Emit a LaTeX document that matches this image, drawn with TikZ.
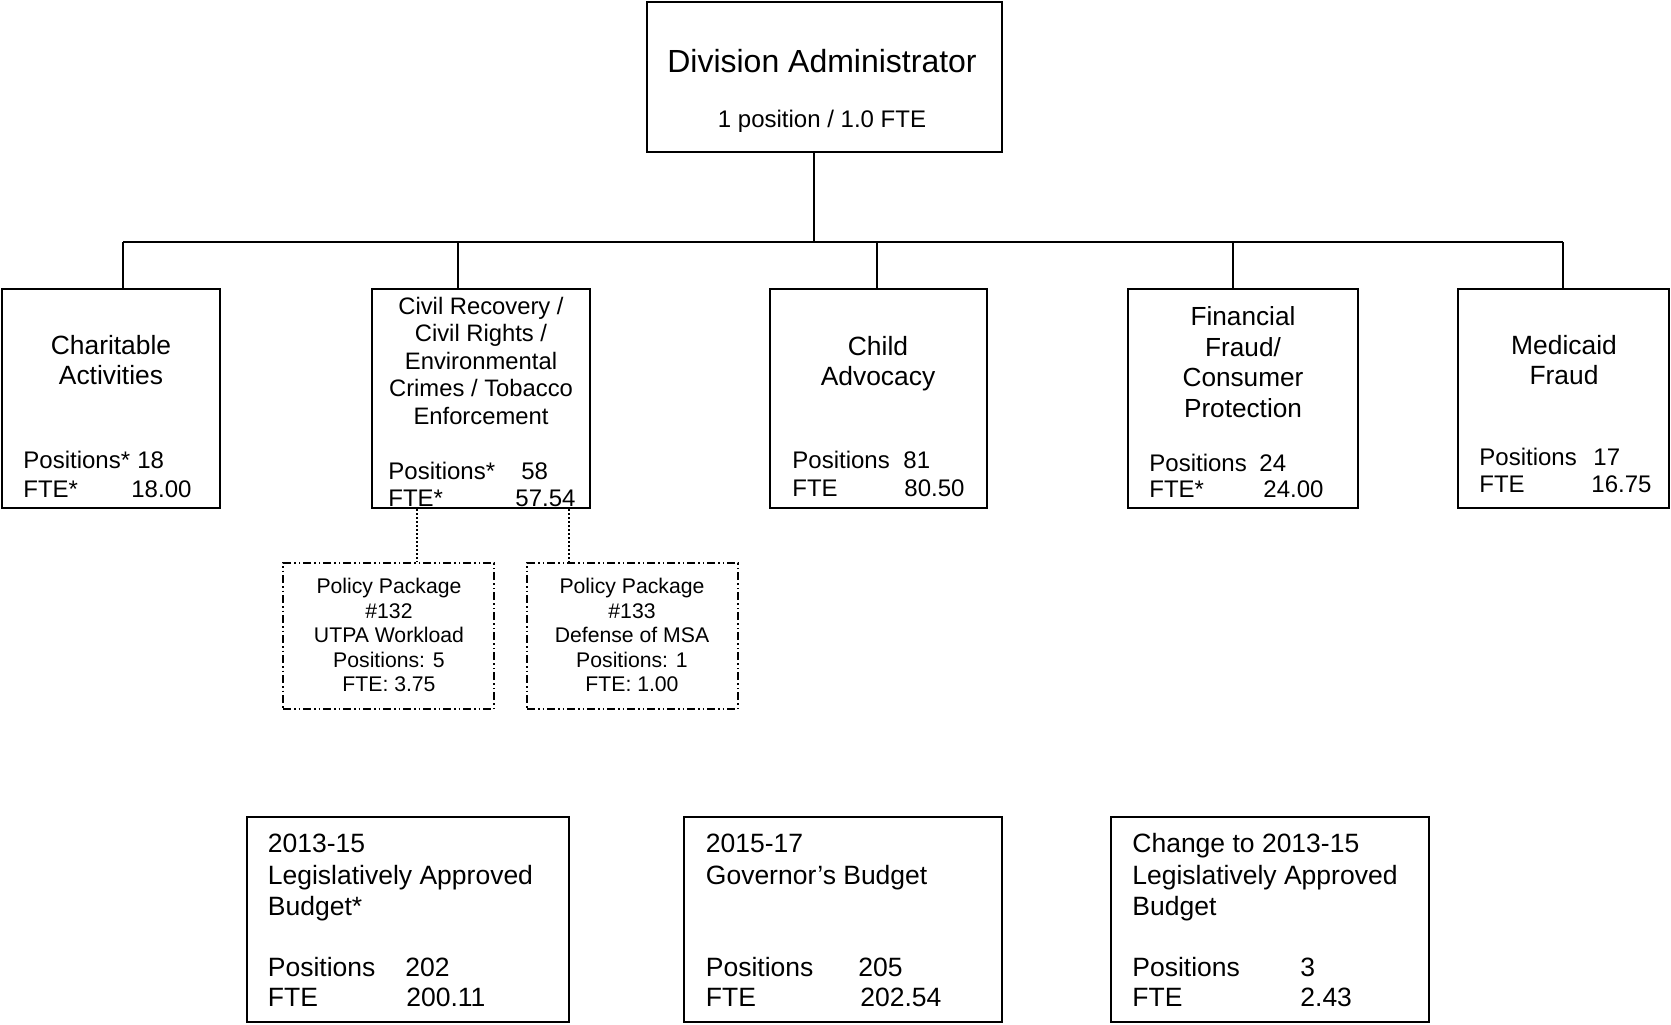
\documentclass[tikz,border=0pt]{standalone}
\usepackage{fontspec}
\setmainfont{Liberation Sans}
\usetikzlibrary{fit}
\begin{document}
\begin{tikzpicture}[x=0.5pt,y=-0.5pt,
  unitbox/.style={draw=black,line width=1.25pt,inner sep=0pt,rectangle},
  pkgbox/.style={draw=black,line width=0.75pt,inner sep=0pt,rectangle,
    dash pattern=on 4pt off 1.5pt on 0.75pt off 1.5pt on 0.75pt off 1.5pt},
  link/.style={draw=black,line width=0.7pt},
  busline/.style={draw=black,line width=1pt},
  dotlink/.style={draw=black,line width=0.75pt,dash pattern=on 0.75pt off 1.25pt},
  bigtxt/.style={font=\fontsize{16}{19}\selectfont,inner sep=0pt},
  titletxt/.style={font=\fontsize{13.2}{15.2}\selectfont,align=center,inner sep=0pt},
  civtxt/.style={font=\fontsize{11.9}{13.75}\selectfont,align=center,inner sep=0pt},
  fintxt/.style={font=\fontsize{13.1}{15.25}\selectfont,align=center,inner sep=0pt},
  numtxt/.style={font=\fontsize{12}{14}\selectfont,inner sep=0pt,anchor=base west},
  pkgtxt/.style={font=\fontsize{10.6}{12.25}\selectfont,align=center,inner sep=0pt},
  sumtxt/.style={font=\fontsize{13.25}{15.5}\selectfont,inner sep=0pt,anchor=base west}]
\useasboundingbox (0,0) rectangle (1671,1024);

% top box
\node[unitbox,fit={(647,2) (1002,152)}] (da) {};
\node[bigtxt,anchor=base] (daname) at (822,72.5) {Division Administrator};
\node[font=\fontsize{12}{14}\selectfont,inner sep=0pt,anchor=base] (dafte) at (822,127.6) {1 position / 1.0 FTE};

% section boxes
\node[unitbox,fit={(2,289) (220,508)}] (char) {};
\node[unitbox,fit={(372,289) (590,508)}] (civ) {};
\node[unitbox,fit={(770,289) (987,508)}] (child) {};
\node[unitbox,fit={(1128,289) (1358,508)}] (fin) {};
\node[unitbox,fit={(1458,289) (1669,508)}] (med) {};

% bus and drops
\coordinate (busL) at (123,242);
\coordinate (busR) at (1563,242);
\coordinate (j1) at (123,242);
\coordinate (j2) at (458,242);
\coordinate (j3) at (877,242);
\coordinate (j4) at (1233,242);
\coordinate (j5) at (1563,242);
\coordinate (jda) at (814,242);
\path[link] (jda |- da.south) -- (jda);
\path[busline] (busL) -- (busR);
\path[link] (j1) -- (j1 |- char.north);
\path[link] (j2) -- (j2 |- civ.north);
\path[link] (j3) -- (j3 |- child.north);
\path[link] (j4) -- (j4 |- fin.north);
\path[link] (j5) -- (j5 |- med.north);

% section titles
\node[titletxt] (chart) at (111,360) {Charitable\\Activities};
\node[civtxt] (civt) at (481,360.5) {Civil Recovery /\\Civil Rights /\\Environmental\\Crimes / Tobacco\\Enforcement};
\node[titletxt] (childt) at (878,363.5) {Child\\Advocacy};
\node[fintxt] (fint) at (1243,362) {Financial\\Fraud/\\Consumer\\Protection};
\node[titletxt] (medt) at (1564,360) {Medicaid\\Fraud};

% section figures
\node[numtxt] (charp) at (23,468.6) {Positions*};
\node[numtxt] (charpv) at (137,468.6) {18};
\node[numtxt] (charf) at (23,497.6) {FTE*};
\node[numtxt] (charfv) at (131,497.6) {18.00};

\node[numtxt] (civp) at (388,479.6) {Positions*};
\node[numtxt] (civpv) at (521,479.6) {58};
\node[numtxt] (civf) at (388,506.6) {FTE*};
\node[numtxt] (civfv) at (515,506.6) {57.54};

\node[numtxt] (childp) at (792,468.6) {Positions};
\node[numtxt] (childpv) at (903,468.6) {81};
\node[numtxt] (childf) at (792,496.6) {FTE};
\node[numtxt] (childfv) at (904,496.6) {80.50};

\node[numtxt] (finp) at (1149,471) {Positions};
\node[numtxt] (finpv) at (1259,471) {24};
\node[numtxt] (finf) at (1149,497.6) {FTE*};
\node[numtxt] (finfv) at (1263,497.6) {24.00};

\node[numtxt] (medp) at (1479,465.6) {Positions};
\node[numtxt] (medpv) at (1593,465.6) {17};
\node[numtxt] (medf) at (1479,492.6) {FTE};
\node[numtxt] (medfv) at (1591,492.6) {16.75};

% policy packages
\node[pkgbox,fit={(283,563) (494,709)}] (pp1) {};
\node[pkgbox,fit={(527,563) (738,709)}] (pp2) {};
\node[pkgtxt] (pp1t) at (389,635) {Policy Package\\\#132\\UTPA Workload\\Positions: 5\\FTE: 3.75};
\node[pkgtxt] (pp2t) at (632,635) {Policy Package\\\#133\\Defense of MSA\\Positions: 1\\FTE: 1.00};
\coordinate (d1) at (417,530);
\coordinate (d2) at (569,530);
\path[dotlink] (d1 |- civ.south) -- (d1 |- pp1.north);
\path[dotlink] (d2 |- civ.south) -- (d2 |- pp2.north);

% budget summary boxes
\node[unitbox,fit={(247,817) (569,1022)}] (lab) {};
\node[unitbox,fit={(684,817) (1002,1022)}] (gov) {};
\node[unitbox,fit={(1111,817) (1429,1022)}] (chg) {};

\node[sumtxt] (lab1) at (267.5,852.5) {2013-15};
\node[sumtxt] (lab2) at (267.5,884.5) {Legislatively Approved};
\node[sumtxt] (lab3) at (267.5,915.5) {Budget*};
\node[sumtxt] (labp) at (267.5,976) {Positions};
\node[sumtxt] (labpv) at (405,976) {202};
\node[sumtxt] (labf) at (267.5,1006) {FTE};
\node[sumtxt] (labfv) at (406,1006) {200.11};

\node[sumtxt] (gov1) at (705.5,852.5) {2015-17};
\node[sumtxt] (gov2) at (705.5,884.5) {Governor’s Budget};
\node[sumtxt] (govp) at (705.5,976) {Positions};
\node[sumtxt] (govpv) at (858,976) {205};
\node[sumtxt] (govf) at (705.5,1006) {FTE};
\node[sumtxt] (govfv) at (860,1006) {202.54};

\node[sumtxt] (chg1) at (1132,852.5) {Change to 2013-15};
\node[sumtxt] (chg2) at (1132,884.5) {Legislatively Approved};
\node[sumtxt] (chg3) at (1132,915.5) {Budget};
\node[sumtxt] (chgp) at (1132,976) {Positions};
\node[sumtxt] (chgpv) at (1300,976) {3};
\node[sumtxt] (chgf) at (1132,1006) {FTE};
\node[sumtxt] (chgfv) at (1300,1006) {2.43};
\end{tikzpicture}
\end{document}
